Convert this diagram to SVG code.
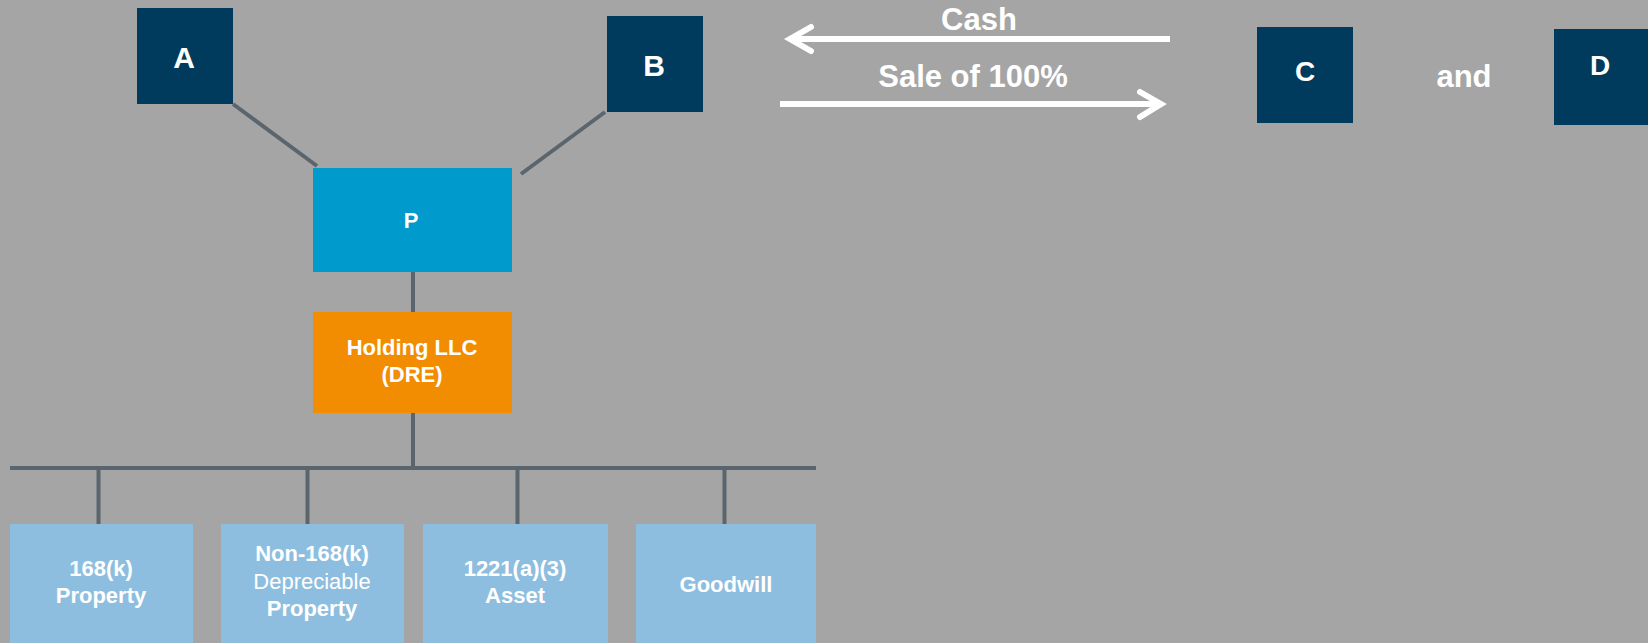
<svg xmlns="http://www.w3.org/2000/svg" width="1648" height="643" viewBox="0 0 1648 643">
<style>
.dark{fill:#003B5D}
.lbl{font-family:"Liberation Sans",Arial,sans-serif;font-weight:bold;fill:#FFFFFF;text-anchor:middle}
.big{font-size:30px}
.mid{font-size:22px}
.reg{font-weight:normal}
.conn{stroke:#5B656E;stroke-width:4;fill:none}
.flow{stroke:#FFFFFF;stroke-width:6;fill:none}
.head{stroke:#FFFFFF;stroke-width:6;fill:none;stroke-linecap:round;stroke-linejoin:miter}
.asset{fill:#8DBEDF}
</style>
<rect width="1648" height="643" fill="#A5A5A5"/>
<g id="connectors">
<line class="conn" x1="233" y1="104" x2="317" y2="166"/>
<line class="conn" x1="605" y1="112" x2="521" y2="174"/>
<line class="conn" x1="413" y1="271" x2="413" y2="313"/>
<line class="conn" x1="413" y1="412" x2="413" y2="468"/>
<line class="conn" x1="10" y1="468" x2="816" y2="468"/>
<line class="conn" x1="98.5" y1="468" x2="98.5" y2="524"/>
<line class="conn" x1="307.5" y1="468" x2="307.5" y2="524"/>
<line class="conn" x1="517.5" y1="468" x2="517.5" y2="524"/>
<line class="conn" x1="724.5" y1="468" x2="724.5" y2="524"/>
</g>
<g id="flow-cash">
<line class="flow" x1="791" y1="39" x2="1170" y2="39"/>
<polyline class="head" points="811,27 790,39 811,51"/>
<text class="lbl big" x="979" y="30" style="font-size:31px">Cash</text>
</g>
<g id="flow-sale">
<line class="flow" x1="780" y1="104" x2="1161" y2="104"/>
<polyline class="head" points="1140,92 1161,104 1140,117"/>
<text class="lbl big" x="973" y="87" style="font-size:31px">Sale of 100%</text>
</g>
<g id="node-A">
<rect class="dark" x="137" y="8" width="96" height="96"/>
<text class="lbl big" x="184" y="68">A</text>
</g>
<g id="node-B">
<rect class="dark" x="607" y="16" width="96" height="96"/>
<text class="lbl big" x="654" y="76">B</text>
</g>
<g id="node-C">
<rect class="dark" x="1257" y="27" width="96" height="96"/>
<text class="lbl big" x="1305" y="81" style="font-size:28px">C</text>
</g>
<g id="label-and">
<text class="lbl big" x="1464" y="87" style="font-size:31px">and</text>
</g>
<g id="node-D">
<rect class="dark" x="1554" y="29" width="96" height="96"/>
<text class="lbl big" x="1600" y="75" style="font-size:28px">D</text>
</g>
<g id="node-P">
<rect x="313" y="168" width="199" height="104" fill="#009ACD"/>
<text class="lbl mid" x="411" y="228">P</text>
</g>
<g id="node-holding">
<rect x="313" y="312" width="199" height="101" fill="#F28C00"/>
<text class="lbl mid" x="412" y="355">Holding LLC</text>
<text class="lbl mid" x="412" y="382">(DRE)</text>
</g>
<g id="node-168k">
<rect class="asset" x="10" y="524" width="183" height="119"/>
<text class="lbl mid" x="101" y="576">168(k)</text>
<text class="lbl mid" x="101" y="603">Property</text>
</g>
<g id="node-non168k">
<rect class="asset" x="221" y="524" width="183" height="119"/>
<text class="lbl mid" x="312" y="561">Non-168(k)</text>
<text class="lbl mid reg" x="312" y="589">Depreciable</text>
<text class="lbl mid" x="312" y="616">Property</text>
</g>
<g id="node-1221">
<rect class="asset" x="423" y="524" width="185" height="119"/>
<text class="lbl mid" x="515" y="576">1221(a)(3)</text>
<text class="lbl mid" x="515" y="603">Asset</text>
</g>
<g id="node-goodwill">
<rect class="asset" x="636" y="524" width="180" height="119"/>
<text class="lbl mid" x="726" y="592">Goodwill</text>
</g>
</svg>
